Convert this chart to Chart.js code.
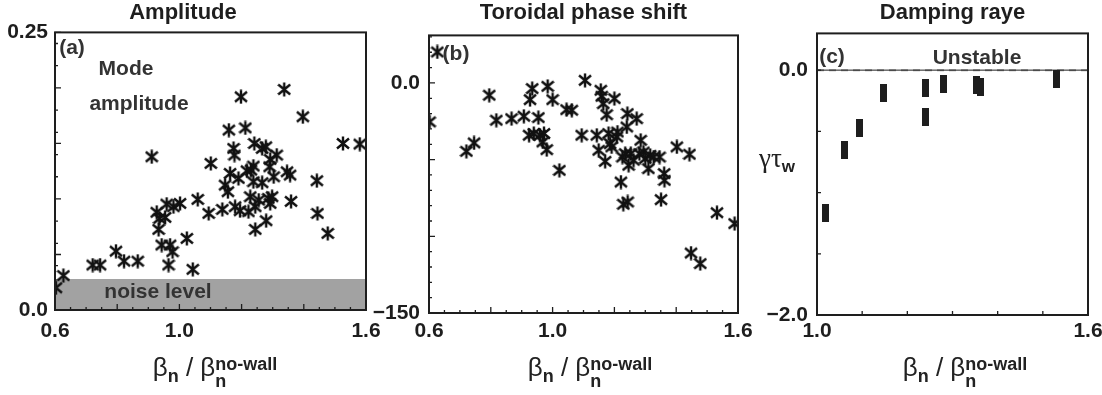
<!DOCTYPE html>
<html>
<head>
<meta charset="utf-8">
<script src="https://cdn.jsdelivr.net/npm/chart.js@4/dist/chart.umd.min.js"></script>
<style>
  html,body{margin:0;padding:0;background:#fff;}
  body{width:1102px;height:395px;position:relative;overflow:hidden;font-family:"Liberation Sans",Arial,sans-serif;}
  canvas{position:absolute;left:0;top:0;}
  .t{position:absolute;transform:translate(-50%,-50%);font-weight:bold;color:#333;white-space:nowrap;line-height:1;font-size:21px;}
  .ax{position:absolute;transform:translate(-50%,-50%);font-size:26px;color:#222;white-space:nowrap;line-height:1;}
  .sb1{font-size:18px;font-weight:bold;position:relative;top:0.35em;}
  .stk{display:inline-block;font-size:18px;font-weight:bold;line-height:0.95;vertical-align:-0.6em;}
  .stk span{display:block;}
  .gt{position:absolute;transform:translate(-50%,-50%);font-family:"Liberation Serif","DejaVu Serif",serif;font-size:27px;color:#222;white-space:nowrap;line-height:1;}
  .gt sub{font-family:"Liberation Sans",Arial,sans-serif;font-weight:bold;font-size:17px;vertical-align:-0.25em;}
</style>
</head>
<body>
<canvas id="ca" width="1102" height="395"></canvas>
<canvas id="cb" width="1102" height="395"></canvas>
<canvas id="cc" width="1102" height="395"></canvas>

<div class="t" style="left:72px;top:46px">(a)</div>
<div class="t" style="left:126px;top:67px">Mode</div>
<div class="t" style="left:139px;top:102px">amplitude</div>
<div class="t" style="left:158px;top:290px">noise level</div>
<div class="t" style="left:456px;top:52px">(b)</div>
<div class="t" style="left:832px;top:55px">(c)</div>
<div class="t" style="left:977px;top:56px">Unstable</div>
<div class="gt" style="left:777px;top:160px">γτ<sub>w</sub></div>

<div class="ax" style="left:215px;top:372px">β<span class="sb1">n</span> / β<span class="stk"><span>no-wall</span><span>n</span></span></div>
<div class="ax" style="left:590px;top:372px">β<span class="sb1">n</span> / β<span class="stk"><span>no-wall</span><span>n</span></span></div>
<div class="ax" style="left:965px;top:372px">β<span class="sb1">n</span> / β<span class="stk"><span>no-wall</span><span>n</span></span></div>

<script>
// ---------------- data ----------------
const titles = ['Amplitude', 'Toroidal phase shift', 'Damping raye'];

// (a) Mode amplitude vs beta_n / beta_n^no-wall
const ampX = [0.603,0.627,0.721,0.745,0.796,0.822,0.866,0.911,0.927,0.936,0.933,0.954,0.959,0.981,1.002,0.943,0.970,0.978,0.965,1.024,1.043,1.059,1.094,1.101,1.138,1.147,1.156,1.163,1.159,1.174,1.177,1.179,1.190,1.198,1.212,1.195,1.217,1.222,1.230,1.238,1.241,1.238,1.244,1.228,1.244,1.255,1.266,1.266,1.278,1.279,1.286,1.290,1.292,1.298,1.303,1.313,1.292,1.337,1.346,1.356,1.359,1.397,1.442,1.444,1.477,1.526,1.580];
const ampY = [0.020,0.031,0.0405,0.0405,0.053,0.044,0.044,0.138,0.088,0.0825,0.0726,0.0834,0.0954,0.093,0.096,0.0585,0.0585,0.0525,0.0405,0.0645,0.0366,0.0996,0.087,0.132,0.0906,0.1125,0.1065,0.123,0.162,0.1455,0.1395,0.093,0.1185,0.192,0.164,0.0894,0.1254,0.0885,0.126,0.1155,0.150,0.1296,0.0726,0.102,0.093,0.099,0.1146,0.1455,0.147,0.0804,0.1005,0.129,0.096,0.102,0.120,0.1395,0.1356,0.1986,0.1245,0.1215,0.0978,0.174,0.1164,0.087,0.069,0.150,0.1494];
const noiseLevel = 0.028;

// (b) Toroidal phase shift (deg)
const phaseX = [0.602,0.627,0.721,0.746,0.795,0.818,0.867,0.907,0.924,0.927,0.934,0.939,0.954,0.959,0.968,0.972,0.981,0.984,1.000,1.022,1.045,1.062,1.094,1.105,1.143,1.149,1.156,1.159,1.164,1.170,1.175,1.181,1.186,1.191,1.200,1.208,1.210,1.221,1.226,1.229,1.243,1.235,1.240,1.242,1.246,1.253,1.262,1.272,1.281,1.285,1.294,1.300,1.310,1.316,1.327,1.346,1.351,1.361,1.362,1.402,1.443,1.448,1.478,1.532,1.589];
const phaseY = [-25.4,20.2,-44.6,-39.1,-8.0,-24.3,-23.3,-21.7,-34.1,-10.9,-3.7,-33.0,-22.6,-34.1,-38.5,-33.0,-43.5,-2.2,-10.9,-57.0,-17.4,-17.8,-34.1,1.7,-34.1,-43.9,-4.8,-8.7,-13.5,-51.1,-20.7,-33.0,-39.6,-41.7,-10.2,-35.2,-32.0,-64.6,-48.3,-79.1,-77.6,-46.1,-28.7,-20.0,-53.7,-46.1,-50.4,-23.3,-46.1,-37.4,-45.0,-49.3,-55.9,-47.2,-48.3,-48.3,-76.1,-59.1,-63.5,-41.7,-46.5,-110.9,-117.8,-84.6,-91.7];

// (c) Damping rate gamma*tau_w
const dampX = [1.019,1.060,1.095,1.148,1.241,1.240,1.281,1.353,1.361,1.531];
const dampY = [-1.17,-0.65,-0.475,-0.185,-0.15,-0.38,-0.11,-0.12,-0.14,-0.075];

// tick labels
const xLabelsAB = [0.6, 1.0, 1.6];
const xLabelsC  = [1.0, 1.6];
const yLabelsA  = [0.0, 0.25];
const yLabelsB  = [0, -150];
const yLabelsC  = [0.0, -2.0];

// ---------------- helpers ----------------
const FONT = '"Liberation Sans", Arial, sans-serif';
const INK = '#1e1e1e';

function makeAsterisk(){
  const c = document.createElement('canvas'); c.width = 14; c.height = 15;
  const g = c.getContext('2d');
  g.strokeStyle = '#111'; g.lineWidth = 2.4;
  g.beginPath();
  g.moveTo(7, 0.5); g.lineTo(7, 14.5);
  g.moveTo(1, 2.5); g.lineTo(13, 12.5);
  g.moveTo(1, 12.5); g.lineTo(13, 2.5);
  g.stroke();
  return c;
}
function makeBar(){
  const c = document.createElement('canvas'); c.width = 7; c.height = 18;
  const g = c.getContext('2d'); g.fillStyle = '#1e1e1e'; g.fillRect(0,0,7,18);
  return c;
}
const asterisk = makeAsterisk();
const barMark = makeBar();

const pts = (xs, ys) => xs.map((x,i)=>({x, y: ys[i]}));

function seq(min, max, step){
  const r = [];
  const start = Math.ceil(min/step - 1e-9)*step;
  for (let v = start; v <= max + 1e-9; v += step) r.push(Math.round(v*1e6)/1e6);
  return r;
}

const frameTicks = {
  id: 'frameTicks',
  afterDatasetsDraw(chart, args, o){
    const {ctx, chartArea: a, scales: {x, y}} = chart;
    ctx.save();
    ctx.strokeStyle = INK; ctx.lineWidth = 1.3;
    ctx.beginPath();
    const xt = (list, L) => list.forEach(v => { const p = x.getPixelForValue(v); ctx.moveTo(p, a.bottom); ctx.lineTo(p, a.bottom - L); });
    const yt = (list, L) => list.forEach(v => { const p = y.getPixelForValue(v); ctx.moveTo(a.left, p); ctx.lineTo(a.left + L, p); });
    xt(seq(x.min, x.max, o.xMinor), o.minorLen);
    if (o.xMajor) xt(seq(x.min, x.max, o.xMajor), o.majorLen);
    yt(seq(y.min, y.max, o.yMinor), o.minorLen);
    if (o.yMajor) yt(seq(y.min, y.max, o.yMajor), o.majorLen);
    ctx.stroke();
    ctx.lineWidth = 2;
    ctx.strokeRect(a.left, a.top, a.width, a.height);
    ctx.restore();
  }
};

function fmt(v, d){ const s = Math.abs(v).toFixed(d); return (v < 0 ? '\u2212' : '') + s; }

function makeChart(id, cfg){
  return new Chart(document.getElementById(id), {
    type: 'scatter',
    data: { datasets: cfg.datasets },
    plugins: [frameTicks],
    options: {
      responsive: false, animation: false, events: [],
      layout: { padding: cfg.pad },
      plugins: {
        legend: { display: false }, tooltip: { enabled: false },
        title: { display: true, text: cfg.title, color: INK, fullSize: cfg.fullTitle,
                 font: { family: FONT, size: 22, weight: 'bold' },
                 padding: { top: 0, bottom: cfg.titleGap } },
        frameTicks: cfg.ticks
      },
      scales: {
        x: {
          type: 'linear', min: cfg.xMin, max: cfg.xMax,
          grid: { display: false, tickLength: 0 }, border: { display: false },
          afterBuildTicks: s => { s.ticks = cfg.xLabels.map(v => ({ value: v })); },
          afterFit: s => { s.height = cfg.xH; s.paddingLeft = 0; s.paddingRight = 0; },
          ticks: { autoSkip: false, maxRotation: 0, padding: cfg.xPad, color: INK,
                   font: { family: FONT, size: 21, weight: 'bold' },
                   callback: v => fmt(v, cfg.xDec) }
        },
        y: {
          type: 'linear', min: cfg.yMin, max: cfg.yMax,
          grid: { display: false, tickLength: 0 }, border: { display: false },
          afterBuildTicks: s => { s.ticks = cfg.yLabels.map(v => ({ value: v })); },
          afterFit: s => { s.width = cfg.yW; s.paddingTop = 0; s.paddingBottom = 0; },
          ticks: { autoSkip: false, padding: cfg.yPad, color: INK,
                   font: { family: FONT, size: 21, weight: 'bold' },
                   callback: v => cfg.yFmt(v) }
        }
      }
    }
  });
}

// (a)
makeChart('ca', {
  title: titles[0], titleGap: 6, fullTitle: true,
  pad: { left: 0, right: 1102 - 366, top: 0, bottom: 0 },
  xMin: 0.6, xMax: 1.6, yMin: 0, yMax: 0.25,
  xLabels: xLabelsAB, yLabels: yLabelsA, xDec: 1,
  yFmt: v => (v === 0 ? '0.0' : String(v)),
  xH: 395 - 310, yW: 55, xPad: 9, yPad: 7,
  ticks: { xMinor: 0.05, xMajor: 0.2, yMinor: 0.02, yMajor: 0.05, minorLen: 3, majorLen: 6 },
  datasets: [
    { type: 'line', data: [{x: 0.6, y: noiseLevel}, {x: 1.6, y: noiseLevel}], fill: 'origin',
      backgroundColor: '#a2a2a2', borderWidth: 0, pointRadius: 0, order: 2 },
    { data: pts(ampX, ampY), pointStyle: asterisk, pointRadius: 6, order: 1 }
  ]
});

// (b)
makeChart('cb', {
  title: titles[1], titleGap: 9, fullTitle: false,
  pad: { left: 429 - 60, right: 1102 - 738, top: 0, bottom: 0 },
  xMin: 0.6, xMax: 1.6, yMin: -150, yMax: 31,
  xLabels: xLabelsAB, yLabels: yLabelsB, xDec: 1,
  yFmt: v => (v === 0 ? '0.0' : fmt(v, 0)),
  xH: 395 - 313, yW: 60, xPad: 6, yPad: 9,
  ticks: { xMinor: 0.05, xMajor: 0.2, yMinor: 10, yMajor: 50, minorLen: 3, majorLen: 6 },
  datasets: [
    { data: pts(phaseX, phaseY), pointStyle: asterisk, pointRadius: 6 }
  ]
});

// (c)
makeChart('cc', {
  title: titles[2], titleGap: 7, fullTitle: false,
  pad: { left: 817 - 60, right: 1102 - 1088, top: 0, bottom: 0 },
  xMin: 1.0, xMax: 1.6, yMin: -2.0, yMax: 0.3,
  xLabels: xLabelsC, yLabels: yLabelsC, xDec: 1,
  yFmt: v => fmt(v, 1),
  xH: 395 - 315, yW: 60, xPad: 4, yPad: 9,
  ticks: { xMinor: 0.1, yMinor: 0.5, minorLen: 4, majorLen: 4 },
  datasets: [
    { type: 'line', data: [{x: 1.0, y: 0}, {x: 1.6, y: 0}], borderColor: '#9a9a9a', borderWidth: 2,
      borderDash: [7, 5], pointRadius: 0, order: 3 },
    { type: 'line', data: [{x: 1.0, y: 0}, {x: 1.6, y: 0}], borderColor: INK, borderWidth: 1,
      pointRadius: 0, order: 2 },
    { data: pts(dampX, dampY), pointStyle: barMark, pointRadius: 5, order: 1 }
  ]
});
</script>
</body>
</html>
